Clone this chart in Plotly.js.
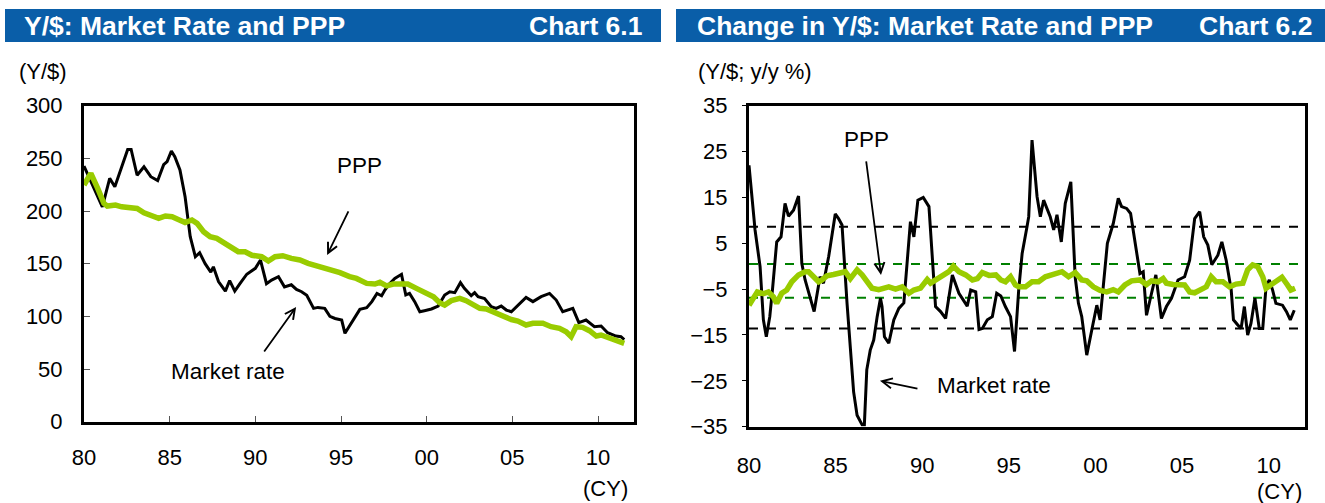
<!DOCTYPE html>
<html>
<head>
<meta charset="utf-8">
<script src="https://cdn.plot.ly/plotly-3.0.1.min.js"></script>
<style>
html,body{margin:0;padding:0;background:#fff;}
#chart{width:1325px;height:503px;}
</style>
</head>
<body>
<div id="chart"></div>
<script>
// ---------- DATA ----------
const tickYears  = [1980, 1985, 1990, 1995, 2000, 2005, 2010];
const tickLabels = ['80', '85', '90', '95', '00', '05', '10'];

// Chart 6.1 : level, Y/$
const mktLevelYears = [1980.0,1981.07,1981.5,1981.8,1982.55,1982.75,1983.1,1983.5,1983.9,1984.3,1984.65,1984.85,1985.1,1985.3,1985.6,1985.9,1986.2,1986.5,1986.75,1987.07,1987.4,1987.55,1987.85,1988.25,1988.5,1988.8,1989.1,1989.5,1990.0,1990.3,1990.65,1990.95,1991.35,1991.7,1992.1,1992.4,1992.7,1993.0,1993.4,1993.65,1994.05,1994.35,1994.65,1995.04,1995.23,1995.52,1995.8,1996.1,1996.5,1996.8,1997.1,1997.37,1997.56,1997.85,1998.14,1998.53,1998.78,1999.0,1999.3,1999.6,1999.87,2000.28,2000.67,2001.05,2001.35,2001.64,2001.97,2002.2,2002.6,2002.8,2003.0,2003.38,2003.77,2004.06,2004.35,2004.65,2004.94,2005.42,2005.8,2006.2,2006.68,2007.17,2007.56,2007.94,2008.23,2008.53,2008.88,2009.3,2009.79,2010.18,2010.56,2011.05,2011.34,2011.53];
const mktLevel = [242.7,204,231,223,258.5,258.5,234,242,232.6,229,244,247,257,251.6,239,213.6,175.6,156.6,160.4,150,142,147,133,124,134,124,131,140,145.6,153.5,131,134.5,137.7,128,130,125.6,123.4,120,107.6,108.5,107.6,100,98,96.5,83.9,91.8,99.7,106.6,108.2,114,121.8,119.6,125,131.3,136,139.9,120.3,121.8,114,104.4,105.4,107,109.8,120.3,123.4,122.5,132,126.6,119.6,122.5,118.7,117,109.2,107.6,109.8,106,104.4,112.3,118,114,118.7,121.8,115.5,104.4,106,107.6,94,96.5,90.2,90.8,84.5,81.3,80.7,78];

const pppLevelYears = [1980.0,1980.4,1980.8,1981.16,1981.36,1981.84,1982.2,1982.7,1983.1,1983.5,1983.9,1984.36,1984.75,1985.14,1985.5,1985.9,1986.3,1986.6,1986.98,1987.36,1987.75,1988.14,1988.6,1989.0,1989.4,1989.8,1990.37,1990.76,1991.15,1991.6,1992.1,1992.6,1993.08,1993.57,1994.05,1994.4,1994.94,1995.5,1995.9,1996.5,1996.98,1997.27,1997.66,1998.05,1998.9,1999.4,1999.87,2000.4,2000.76,2001.05,2001.44,2001.93,2002.3,2002.7,2003.1,2003.48,2003.97,2004.45,2004.94,2005.32,2005.8,2006.2,2006.78,2007.26,2007.75,2008.14,2008.43,2008.72,2009.1,2009.5,2009.9,2010.18,2010.56,2010.95,2011.25,2011.53];
const pppLevel = [224.7,235.8,221.5,207.3,204.7,205.7,204,202.5,202.5,198.4,196.2,193,195.3,194.6,192,189,191.5,188.3,180.4,175.6,174,170,166,161.4,161.4,158,156.6,152.5,156.6,157.6,155,153.5,150.3,148,146.5,145,141.5,137.7,136,131.3,130.7,132.3,129,130.7,130.7,126.6,123.4,118.7,113,110.8,114.9,117,114.9,110.8,107.6,107,103.5,99.7,97,95.6,91.8,93.4,93.4,90.2,88.6,85.4,80.7,90.2,89.6,86.4,81.3,82.3,80,76.9,75.9,74.4];

// Chart 6.2 : y/y % change
const mktChangeYears = [1980.0,1980.2,1980.35,1980.64,1980.83,1981.0,1981.2,1981.37,1981.6,1981.85,1982.08,1982.28,1982.57,1982.86,1983.05,1983.24,1983.53,1983.76,1984.1,1984.3,1984.6,1984.98,1985.17,1985.37,1985.66,1985.85,1986.04,1986.24,1986.53,1986.66,1986.8,1987.0,1987.2,1987.4,1987.59,1987.68,1987.82,1988.07,1988.36,1988.65,1988.94,1989.32,1989.52,1989.75,1990.06,1990.39,1990.77,1991.06,1991.35,1991.74,1992.12,1992.6,1992.8,1993.09,1993.28,1993.47,1993.76,1994.05,1994.3,1994.54,1994.8,1995.1,1995.33,1995.57,1995.77,1996.05,1996.15,1996.34,1996.63,1996.82,1997.01,1997.39,1997.59,1997.78,1998.03,1998.26,1998.58,1998.83,1999.02,1999.21,1999.5,1999.79,2000.08,2000.27,2000.46,2000.69,2001.03,2001.32,2001.51,2001.8,2002.03,2002.28,2002.57,2002.76,2002.95,2003.24,2003.49,2003.81,2004.1,2004.39,2004.58,2004.77,2005.15,2005.44,2005.73,2006.02,2006.25,2006.49,2006.72,2007.07,2007.3,2007.55,2007.84,2007.97,2008.22,2008.41,2008.6,2008.79,2008.98,2009.21,2009.46,2009.66,2009.85,2010.04,2010.23,2010.42,2010.8,2011.03,2011.25,2011.48];
const mktChange = [22,14.4,7.9,-0.1,-11.7,-15.4,-11,-4.5,5.3,6.4,13.7,10.9,12.2,15.3,0.6,-3.0,-7.0,-9.9,-2.3,-3.7,2.1,11.4,10.4,9.0,-8.1,-18.3,-27.4,-32.5,-34.6,-34.6,-22.6,-18.3,-16.1,-11,-7.0,-8.8,-15.4,-16.8,-11.7,-9.2,-8.0,9.7,6.4,14.4,15.0,13.0,-8.8,-9.9,-11.4,-1.9,-5.9,-8.7,-5.2,-5.6,-13.8,-13.6,-11.7,-11.0,-5.9,-6.5,-8.8,-11.0,-18.6,-5.2,2.8,8.6,10.8,27.5,15.2,10.8,14.4,10.8,7.9,11.2,5.3,13.7,18.4,-2.3,-8.1,-11.0,-19.4,-13.9,-8.5,-11.7,-3.7,5.0,9.3,14.8,13.0,12.6,11.5,5.0,-1.6,-1.2,-10.7,-5.9,-1.9,-11.4,-8.8,-7.0,-5.2,-3.0,-2.3,1.3,10.4,11.9,6.4,4.6,0.3,2.4,5.3,1.3,-5.2,-11.7,-12.8,-13.6,-8.8,-15.0,-12.5,-7.0,-13.6,-13.6,-4.5,-3.0,-5.2,-8.1,-8.5,-9.9,-11.7,-9.6];

const pppChangeYears = [1980.0,1980.15,1980.48,1980.83,1981.12,1981.41,1981.6,1981.89,1982.18,1982.47,1982.86,1983.24,1983.44,1983.73,1984.02,1984.21,1984.5,1984.88,1985.27,1985.56,1985.85,1986.24,1986.53,1986.81,1987.1,1987.49,1987.78,1988.07,1988.46,1988.84,1989.23,1989.52,1989.9,1990.29,1990.48,1990.87,1991.25,1991.54,1991.8,1992.12,1992.51,1992.9,1993.19,1993.47,1993.86,1994.25,1994.54,1994.81,1995.1,1995.38,1995.57,1995.96,1996.34,1996.72,1997.11,1997.49,1997.78,1998.07,1998.45,1998.83,1999.21,1999.5,1999.88,2000.27,2000.65,2001.03,2001.32,2001.7,2002.09,2002.57,2002.95,2003.24,2003.62,2003.91,2004.1,2004.48,2005.15,2005.44,2005.73,2006.02,2006.4,2006.69,2006.97,2007.36,2007.74,2008.12,2008.51,2008.79,2009.08,2009.37,2009.66,2009.85,2010.13,2010.42,2010.77,2011.09,2011.28,2011.53];
const pppChange = [-8.5,-7.4,-5.6,-6.0,-5.6,-6.7,-8.1,-5.9,-5.2,-3.4,-1.9,-1.2,-1.2,-2.3,-3.4,-3.0,-2.1,-1.8,-1.6,-1.2,-2.7,-0.8,-1.9,-3.4,-4.8,-5.1,-4.8,-4.5,-5.0,-4.5,-5.9,-5.2,-4.8,-2.9,-3.7,-2.7,-1.6,-1.2,0.0,-1.2,-1.9,-3.0,-2.7,-1.4,-2.0,-1.9,-3.0,-3.4,-2.3,-4.1,-4.5,-4.5,-3.4,-3.4,-2.3,-1.8,-1.6,-1.2,-2.3,-1.4,-3.0,-3.2,-4.5,-5.3,-5.6,-5.1,-5.6,-4.1,-3.2,-3.0,-4.0,-3.2,-3.4,-2.7,-3.7,-4.0,-4.1,-5.6,-5.8,-5.2,-4.5,-2.3,-3.4,-3.4,-4.5,-3.9,-3.7,-0.8,0.3,-0.1,-2.3,-4.8,-4.1,-3.4,-2.4,-4.1,-5.2,-4.8];

// mean ± 1 s.d. bands
const mktBand = [8.6, -13.6];
const pppBand = [0.5, -6.9];

// ---------- LAYOUT HELPERS ----------
const W = 1325, H = 503;
const px = v => v / W;
const py = v => 1 - v / H;
const FONT = 'Arial, "Liberation Sans", sans-serif';
const GREEN = '#99CC00';
const BLUE = 'rgb(10,94,168)';

const traces = [
  {x: mktLevelYears, y: mktLevel, xaxis: 'x', yaxis: 'y', type: 'scatter', mode: 'lines',
   line: {color: '#000', width: 3}, hoverinfo: 'skip'},
  {x: pppLevelYears, y: pppLevel, xaxis: 'x', yaxis: 'y', type: 'scatter', mode: 'lines',
   line: {color: GREEN, width: 5.5}, hoverinfo: 'skip'},
  {x: mktChangeYears, y: mktChange, xaxis: 'x2', yaxis: 'y2', type: 'scatter', mode: 'lines',
   line: {color: '#000', width: 3}, hoverinfo: 'skip'},
  {x: pppChangeYears, y: pppChange, xaxis: 'x2', yaxis: 'y2', type: 'scatter', mode: 'lines',
   line: {color: GREEN, width: 5.5}, hoverinfo: 'skip'}
];

const tickFont = {family: FONT, size: 22, color: '#000'};
const xRange = [1980, 2012.1];

const shapes = [
  {type: 'rect', xref: 'paper', yref: 'paper', x0: px(5), x1: px(661), y0: py(42), y1: py(9),
   fillcolor: BLUE, line: {width: 0}, layer: 'below'},
  {type: 'rect', xref: 'paper', yref: 'paper', x0: px(676), x1: px(1325), y0: py(42), y1: py(9),
   fillcolor: BLUE, line: {width: 0}, layer: 'below'}
];
mktBand.forEach(v => shapes.push({type: 'line', xref: 'x2 domain', yref: 'y2', x0: 0, x1: 1, y0: v, y1: v,
  line: {color: '#000', width: 2, dash: 'dash'}, layer: 'below'}));
pppBand.forEach(v => shapes.push({type: 'line', xref: 'x2 domain', yref: 'y2', x0: 0, x1: 1, y0: v, y1: v,
  line: {color: '#008000', width: 2, dash: 'dash'}, layer: 'below'}));

const txt = (t, x, y, opts) => Object.assign({text: t, xref: 'paper', yref: 'paper', x: px(x), y: py(y),
  showarrow: false, xanchor: 'center', yanchor: 'middle', font: {family: FONT, size: 22.5, color: '#000'}}, opts || {});
const hdrFont = {family: FONT, size: 26.5, color: '#fff', weight: 'bold'};
const unitFont = {family: FONT, size: 22, color: '#000'};
const arrow = (xr, yr, x, y, ax, ay) => ({xref: xr, yref: yr, x: x, y: y, ax: ax, ay: ay, text: '',
  showarrow: true, arrowhead: 5, arrowsize: 1.1, arrowwidth: 1.8, arrowcolor: '#000'});

const annotations = [
  txt('<b>Y/$: Market Rate and PPP</b>', 22, 26, {xanchor: 'left', font: hdrFont}),
  txt('<b>Chart 6.1</b>', 644, 26, {xanchor: 'right', font: hdrFont}),
  txt('<b>Change in Y/$: Market Rate and PPP</b>', 695, 26, {xanchor: 'left', font: hdrFont}),
  txt('<b>Chart 6.2</b>', 1314, 26, {xanchor: 'right', font: hdrFont}),
  txt('(Y/$)', 17, 71, {xanchor: 'left', font: unitFont}),
  txt('(Y/$; y/y %)', 696, 71, {xanchor: 'left', font: unitFont}),
  txt('(CY)', 605, 488, {font: unitFont}),
  txt('(CY)', 1279, 491, {font: unitFont}),
  txt('PPP', 359, 165),
  txt('Market rate', 228, 371),
  txt('PPP', 866, 139),
  txt('Market rate', 994, 385),
  // arrows (tip in data coords, tail offset in px)
  arrow('x', 'y', 1994.19, 158.3, 22, -45),
  arrow('x', 'y', 1992.38, 108.9, -33, 46),
  arrow('x2', 'y2', 1987.62, -1.9, -15, -115),
  arrow('x2', 'y2', 1987.56, -25.0, 39, 8)
];

const layout = {
  width: W, height: H,
  margin: {l: 0, r: 0, t: 0, b: 0},
  paper_bgcolor: '#fff', plot_bgcolor: '#fff',
  showlegend: false,
  font: {family: FONT, color: '#000'},
  xaxis: {domain: [px(84), px(634)], anchor: 'y', range: xRange, tickvals: tickYears, ticktext: tickLabels,
    ticks: 'inside', ticklen: 6, tickwidth: 1, tickcolor: '#555', tickfont: tickFont,
    showline: true, linecolor: '#000', linewidth: 3, mirror: true, showgrid: false, zeroline: false,
    ticklabelstandoff: 14},
  yaxis: {domain: [py(421.7), py(105.7)], anchor: 'x', range: [0, 300], dtick: 50, tick0: 0,
    ticks: 'inside', ticklen: 6, tickwidth: 1, tickcolor: '#555', tickfont: tickFont,
    showline: true, linecolor: '#000', linewidth: 3, mirror: true, showgrid: false, zeroline: false,
    ticklabelstandoff: 14},
  xaxis2: {domain: [px(749), px(1305)], anchor: 'y2', range: xRange, tickvals: tickYears, ticktext: tickLabels,
    ticks: '', tickfont: tickFont,
    showline: true, linecolor: '#000', linewidth: 3, mirror: true, showgrid: false, zeroline: false,
    ticklabelstandoff: 17},
  xaxis3: {overlaying: 'x2', anchor: 'free', position: (py(426.7) + py(105.7)) / 2, range: xRange,
    tickvals: tickYears, ticks: 'inside', ticklen: 5, tickwidth: 1, tickcolor: '#666',
    showticklabels: false, showline: true, linecolor: '#888', linewidth: 1.5, showgrid: false, zeroline: false},
  yaxis2: {domain: [py(426.7), py(105.7)], anchor: 'x2', range: [-35, 35],
    tickvals: [-35, -25, -15, -5, 5, 15, 25, 35],
    ticks: 'outside', ticklen: 4, tickwidth: 1, tickcolor: '#000', tickfont: tickFont,
    showline: true, linecolor: '#000', linewidth: 3, mirror: true, showgrid: false, zeroline: false,
    ticklabelstandoff: 10},
  shapes: shapes,
  annotations: annotations
};

Plotly.newPlot('chart', traces, layout, {staticPlot: true, displayModeBar: false});
</script>
</body>
</html>
